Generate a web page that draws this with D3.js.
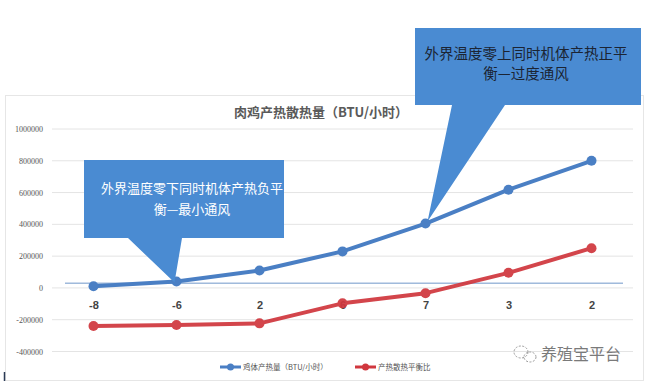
<!DOCTYPE html>
<html><head><meta charset="utf-8">
<script src="https://cdn.jsdelivr.net/npm/d3@7"></script>
<style>
html,body{margin:0;padding:0;background:#fff;}
svg{display:block;font-family:"Noto Sans CJK SC","Noto Sans",sans-serif;}
</style></head>
<body><svg id="c" width="654" height="392"></svg>
<script>
const categories = ["-8","-6","2","6","7","3","2"];
const heatProduction = [10000, 40000, 110000, 230000, 405000, 618000, 800000];
const balanceRatio = [-240000, -233000, -223000, -97000, -33000, 95000, 250000];
const yTicks = [-400000,-200000,0,200000,400000,600000,800000,1000000];
const referenceValue = 30000;
const title = "肉鸡产热散热量（BTU/小时）";
const seriesNames = ["鸡体产热量（BTU/小时）","产热散热平衡比"];
const callout1 = ["外界温度零下同时机体产热负平","衡—最小通风"];
const callout2 = ["外界温度零上同时机体产热正平","衡—过度通风"];
const watermark = "养殖宝平台";

const svg = d3.select("#c");
const blue = "#4a7fc4", red = "#d0373e", callBlue = "#4a8bd2";

svg.append("rect").attr("x",5.5).attr("y",95.5).attr("width",638).attr("height",285)
  .attr("fill","#fff").attr("stroke","#e6e6e6");

const idx = categories.map((d,i)=>i);
const x = d3.scalePoint().domain(idx).range([52,633]).padding(0.5);
const y = d3.scaleLinear().domain([-400000,1000000]).range([351.5,129]);

svg.append("g").selectAll("line").data(yTicks).join("line")
  .attr("x1",52).attr("x2",633).attr("y1",d=>y(d)).attr("y2",d=>y(d))
  .attr("stroke","#e4e4e4").attr("stroke-width",1);

const yAxis = d3.axisLeft(y).tickValues(yTicks).tickSize(0).tickPadding(0).tickFormat(d=>String(d));
const ga = svg.append("g").attr("transform","translate(43,0)").call(yAxis);
ga.select(".domain").remove();
ga.selectAll("text").attr("font-size",8).attr("fill","#555").attr("font-family","Liberation Serif, serif");

const xAxis = d3.axisBottom(x).tickSize(0).tickFormat(i=>categories[i]);
const gx = svg.append("g").attr("transform","translate(0,298)").call(xAxis);
gx.select(".domain").remove();
gx.selectAll("text").attr("font-size",11).attr("font-weight","bold").attr("fill","#444").attr("font-family","Liberation Sans, Arial, sans-serif");

svg.append("line").attr("x1",65).attr("x2",623).attr("y1",y(referenceValue)).attr("y2",y(referenceValue))
  .attr("stroke","#6f97c9").attr("stroke-width",1);

svg.append("text").attr("x",321).attr("y",117).attr("text-anchor","middle")
  .attr("font-size",13).attr("font-weight","bold").attr("fill","#5a5a5a").text(title);

const line = d3.line().x((d,i)=>x(i)).y(d=>y(d));
function series(vals,color,op){
  const g = svg.append("g").attr("opacity",op);
  g.append("path").datum(vals).attr("d",line).attr("fill","none")
    .attr("stroke",color).attr("stroke-width",4).attr("stroke-linejoin","round");
  g.append("g").selectAll("circle").data(vals).join("circle")
    .attr("cx",(d,i)=>x(i)).attr("cy",d=>y(d)).attr("r",5).attr("fill",color);
}
series(balanceRatio, red, 0.93);
series(heatProduction, blue, 1);

const tip1x = x(1)-2, tip1y = y(heatProduction[1])+1;
svg.append("path").attr("fill",callBlue)
  .attr("d",`M84,160 H284 V238 H182 L${tip1x},${tip1y} L128,238 H84 Z`);
svg.append("g").selectAll("text").data(callout1).join("text")
  .attr("x",192).attr("y",(d,i)=>193+i*21).attr("text-anchor","middle")
  .attr("font-size",13).attr("fill","#fff").text(d=>d);

const tip2x = x(4)+2, tip2y = y(heatProduction[4])-2;
svg.append("path").attr("fill",callBlue)
  .attr("d",`M415,28 H641 V105 H505 L${tip2x},${tip2y} L452,105 H415 Z`);
svg.append("g").selectAll("text").data(callout2).join("text")
  .attr("x",526).attr("y",(d,i)=>59+i*20).attr("text-anchor","middle")
  .attr("font-size",14.5).attr("fill","#1b2433").text(d=>d);

const lg = svg.append("g");
[[220,blue,seriesNames[0]],[355,red,seriesNames[1]]].forEach(([lx,c,t])=>{
  lg.append("line").attr("x1",lx).attr("x2",lx+21).attr("y1",367).attr("y2",367).attr("stroke",c).attr("stroke-width",3);
  lg.append("circle").attr("cx",lx+10.5).attr("cy",367).attr("r",3.5).attr("fill",c);
  lg.append("text").attr("x",lx+23).attr("y",370).attr("font-size",7.5).attr("fill","#555").text(t);
});

const wm = svg.append("g").attr("fill","none").attr("stroke","#9a9a9a").attr("stroke-width",1).attr("stroke-dasharray","2,1.5");
wm.append("ellipse").attr("cx",521).attr("cy",352).attr("rx",7).attr("ry",6);
wm.append("ellipse").attr("cx",530).attr("cy",357).attr("rx",6).attr("ry",5);
svg.append("text").attr("x",541).attr("y",360).attr("font-size",16).attr("fill","#7a7a7a").text(watermark);

svg.append("line").attr("x1",4.5).attr("x2",4.5).attr("y1",372).attr("y2",381).attr("stroke","#2a3a55").attr("stroke-width",1.5);
</script></body></html>
